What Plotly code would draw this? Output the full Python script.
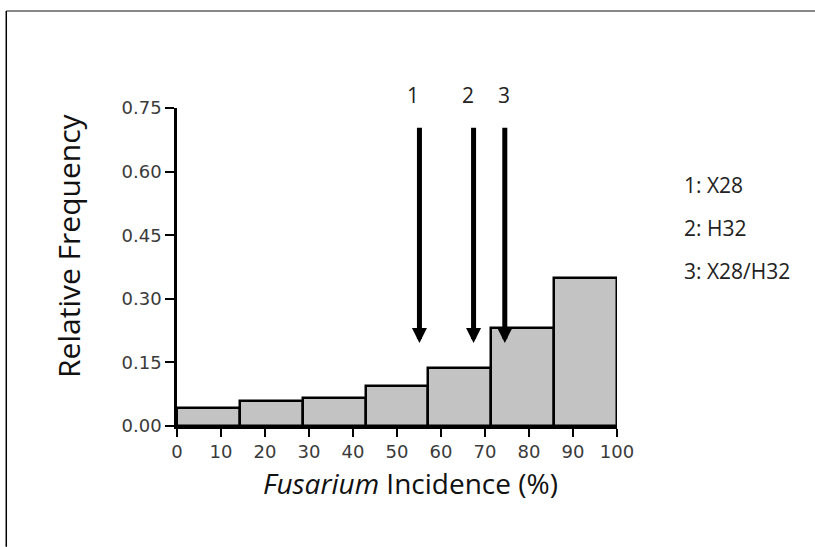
import plotly.graph_objects as go

# ---- data ----
bin_edges = [0, 100/7, 200/7, 300/7, 400/7, 500/7, 600/7, 100]
rel_freq = [0.043, 0.058, 0.065, 0.094, 0.137, 0.232, 0.350]
arrow_x = [55.1, 67.4, 74.5]
arrow_tip_y = [0.196, 0.196, 0.196]
arrow_tail_y = [0.707, 0.707, 0.707]
arrow_labels = ["1", "2", "3"]
label_x = [53.6, 66.2, 74.3]
legend_lines = ["1: X28", "2: H32", "3: X28/H32"]
x_ticks = [0, 10, 20, 30, 40, 50, 60, 70, 80, 90, 100]
y_ticks = [0.00, 0.15, 0.30, 0.45, 0.60, 0.75]
x_title = "<i>Fusarium</i> Incidence (%)"
y_title = "Relative Frequency"

centers = [(bin_edges[i] + bin_edges[i + 1]) / 2 for i in range(len(rel_freq))]
widths = [bin_edges[i + 1] - bin_edges[i] for i in range(len(rel_freq))]

fig = go.Figure()
fig.add_trace(go.Bar(
    x=centers, y=rel_freq, width=widths,
    marker=dict(color="#c3c3c3", line=dict(color="black", width=2.5)),
    showlegend=False, hoverinfo="skip",
))

annotations = []
for xa, yt, ytail in zip(arrow_x, arrow_tip_y, arrow_tail_y):
    annotations.append(dict(
        x=xa, y=yt, ax=xa, ay=ytail, xref="x", yref="y", axref="x", ayref="y",
        showarrow=True, arrowhead=2, arrowwidth=5, arrowsize=0.6,
        arrowcolor="black", standoff=0, text="",
    ))
for lx, lt in zip(label_x, arrow_labels):
    annotations.append(dict(
        x=lx, y=1.04, xref="x", yref="paper", text=lt, showarrow=False,
        font=dict(family="Open Sans", size=21, color="#222"),
        xanchor="center", yanchor="middle",
    ))
legend_y = [0.758, 0.623, 0.487]
for ly, lt in zip(legend_y, legend_lines):
    annotations.append(dict(
        x=1.148, y=ly, xref="paper", yref="paper", text=lt, showarrow=False,
        font=dict(family="Open Sans", size=21, color="#222"),
        xanchor="left", yanchor="middle",
    ))
# axis titles
annotations.append(dict(
    x=0.53, y=-0.179, xref="paper", yref="paper", text=x_title, showarrow=False,
    font=dict(family="Open Sans", size=28, color="#111"),
    xanchor="center", yanchor="middle",
))
annotations.append(dict(
    x=-0.248, y=0.566, xref="paper", yref="paper", text=y_title, showarrow=False,
    textangle=-90, font=dict(family="Open Sans", size=30, color="#111"),
    xanchor="center", yanchor="middle",
))

fig.update_layout(
    width=815, height=547,
    margin=dict(l=177, r=198, t=108, b=121),
    paper_bgcolor="white", plot_bgcolor="white",
    bargap=0,
    annotations=annotations,
    xaxis=dict(
        range=[0, 100], tickvals=x_ticks, ticktext=[str(t) for t in x_ticks],
        showline=True, linecolor="black", linewidth=2.5, ticks="outside",
        ticklen=8, tickwidth=2, tickcolor="black", showgrid=False, zeroline=False,
        tickfont=dict(family="DejaVu Sans", size=18, color="#3a3a3a"),
    ),
    yaxis=dict(
        range=[0, 0.75], tickvals=y_ticks, ticktext=["%.2f" % t for t in y_ticks],
        showline=True, linecolor="black", linewidth=2.5, ticks="outside",
        ticklen=9, tickwidth=2, tickcolor="black", showgrid=False, zeroline=False,
        tickfont=dict(family="DejaVu Sans", size=18, color="#3a3a3a"),
    ),
    shapes=[
        dict(type="line", xref="paper", yref="paper", x0=-0.388, x1=1.45,
             y0=1.305, y1=1.305, line=dict(color="#888", width=2)),
        dict(type="line", xref="paper", yref="paper", x0=-0.388, x1=-0.388,
             y0=1.305, y1=-0.38, line=dict(color="black", width=1.5)),
    ],
)

fig.write_html("out.html")
